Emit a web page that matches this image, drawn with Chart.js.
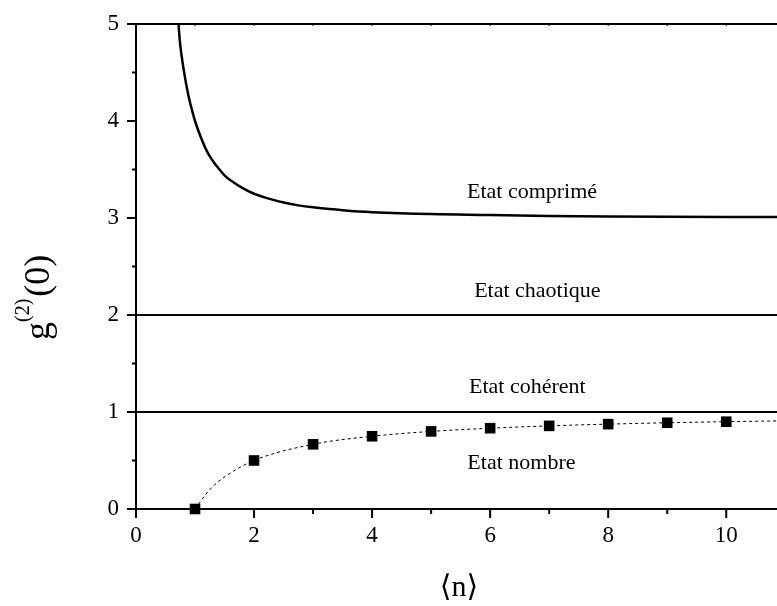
<!DOCTYPE html>
<html>
<head>
<meta charset="utf-8">
<script src="https://cdn.jsdelivr.net/npm/chart.js@4.4.1/dist/chart.umd.min.js"></script>
<style>
  html, body { margin: 0; padding: 0; background: #fff; }
  #wrap { width: 777px; height: 606px; position: relative; }
</style>
</head>
<body>
<div id="wrap"><canvas id="chart"></canvas></div>
<script>
// values
const xMax = 10.86;

// squeezed state curve (read points)
const squeezedX = [0.72, 0.75, 0.8, 0.85, 0.9, 0.95, 1.0, 1.1, 1.2, 1.3, 1.4, 1.5, 1.6, 1.8, 2, 2.25, 2.5, 2.75, 3, 3.5, 4, 5, 6, 7, 8, 10, 10.86];
const squeezedY = [5.0, 4.78, 4.56, 4.38, 4.23, 4.11, 4.0, 3.83, 3.69, 3.59, 3.51, 3.44, 3.39, 3.31, 3.25, 3.2, 3.16, 3.13, 3.11, 3.08, 3.06, 3.04, 3.03, 3.02, 3.015, 3.01, 3.01];

// chaotic and coherent levels
const chaoticLevel = 2;
const coherentLevel = 1;

// number state markers
const numberX = [1, 2, 3, 4, 5, 6, 7, 8, 9, 10];
const numberY = [0, 0.5, 0.667, 0.75, 0.8, 0.833, 0.857, 0.875, 0.889, 0.9];

// dashed guide through the number state points
const guideX = [1, 1.25, 1.5, 2, 3, 4, 5, 6, 7, 8, 9, 10, 10.86];
const guideY = [0, 0.2, 0.33, 0.5, 0.667, 0.75, 0.8, 0.833, 0.857, 0.875, 0.889, 0.9, 0.908];

const annotations = [
  { text: 'Etat comprimé', x: 6.71, y: 3.27 },
  { text: 'Etat chaotique', x: 6.8, y: 2.25 },
  { text: 'Etat cohérent', x: 6.63, y: 1.26 },
  { text: 'Etat nombre', x: 6.53, y: 0.47 }
];

const serif = '"Liberation Serif", "DejaVu Serif", serif';

function pts(xs, ys) {
  return xs.map((x, i) => ({ x: x, y: ys[i] }));
}

const frame = {
  id: 'frame',
  afterDatasetsDraw(chart) {
    const { ctx, chartArea: a, scales: { x, y } } = chart;
    ctx.save();
    ctx.strokeStyle = '#000';
    ctx.lineWidth = 2;
    // top border
    ctx.beginPath();
    ctx.moveTo(a.left, a.top);
    ctx.lineTo(a.right, a.top);
    ctx.stroke();
    // y tick marks (outward)
    y.ticks.forEach(t => {
      const py = y.getPixelForValue(t.value);
      const len = Number.isInteger(t.value) ? 9 : 4;
      ctx.beginPath();
      ctx.moveTo(a.left - len, py);
      ctx.lineTo(a.left, py);
      ctx.stroke();
    });
    // x tick marks (outward) and small inward top ticks
    x.ticks.forEach(t => {
      const px = x.getPixelForValue(t.value);
      const len = t.value % 2 === 0 ? 9 : 5;
      ctx.lineWidth = 2;
      ctx.beginPath();
      ctx.moveTo(px, a.bottom);
      ctx.lineTo(px, a.bottom + len);
      ctx.stroke();
      ctx.lineWidth = 1;
      ctx.beginPath();
      ctx.moveTo(px, a.top);
      ctx.lineTo(px, a.top + 2);
      ctx.stroke();
    });
    // state labels
    ctx.fillStyle = '#000';
    ctx.font = '22px ' + serif;
    ctx.textAlign = 'center';
    ctx.textBaseline = 'middle';
    annotations.forEach(n => {
      ctx.fillText(n.text, x.getPixelForValue(n.x), y.getPixelForValue(n.y));
    });
    // x title
    ctx.font = '30px ' + serif;
    ctx.fillText('\u27E8n\u27E9', 459, 588);
    // y title g^(2)(0)
    ctx.translate(49, 340);
    ctx.rotate(-Math.PI / 2);
    ctx.textAlign = 'left';
    ctx.textBaseline = 'alphabetic';
    let cx = 0;
    ctx.font = '36px ' + serif;
    ctx.fillText('g', cx, 0);
    cx += ctx.measureText('g').width;
    ctx.font = '20px ' + serif;
    ctx.fillText('(2)', cx, -20);
    cx += ctx.measureText('(2)').width;
    ctx.font = '36px ' + serif;
    ctx.fillText('(0)', cx + 2, 0);
    ctx.restore();
  }
};

new Chart(document.getElementById('chart'), {
  type: 'scatter',
  data: {
    datasets: [
      {
        data: pts(squeezedX, squeezedY),
        showLine: true,
        borderColor: '#000',
        borderWidth: 2.5,
        pointRadius: 0,
        tension: 0.4
      },
      {
        data: pts([0, xMax], [chaoticLevel, chaoticLevel]),
        showLine: true,
        borderColor: '#000',
        borderWidth: 2,
        pointRadius: 0
      },
      {
        data: pts([0, xMax], [coherentLevel, coherentLevel]),
        showLine: true,
        borderColor: '#000',
        borderWidth: 2,
        pointRadius: 0
      },
      {
        data: pts(guideX, guideY),
        showLine: true,
        borderColor: '#000',
        borderWidth: 1,
        borderDash: [3, 3],
        pointRadius: 0,
        cubicInterpolationMode: 'monotone'
      },
      {
        data: pts(numberX, numberY),
        showLine: false,
        clip: false,
        pointStyle: 'rect',
        pointRadius: 7.5,
        backgroundColor: '#000',
        borderColor: '#000',
        borderWidth: 0
      }
    ]
  },
  options: {
    responsive: true,
    maintainAspectRatio: false,
    animation: false,
    layout: { autoPadding: false, padding: { top: 24, right: 0, bottom: 0, left: 0 } },
    plugins: { legend: { display: false }, tooltip: { enabled: false } },
    scales: {
      x: {
        type: 'linear',
        min: 0,
        max: xMax,
        grid: { display: false, drawTicks: false },
        border: { display: true, color: '#000', width: 2 },
        ticks: {
          stepSize: 1,
          includeBounds: false,
          padding: 13,
          color: '#000',
          font: { family: serif, size: 23 },
          maxRotation: 0,
          autoSkip: false,
          callback: v => (v % 2 === 0 ? String(v) : '')
        },
        afterFit(scale) {
          scale.height = 97;
          scale.paddingLeft = 0;
          scale.paddingRight = 0;
        }
      },
      y: {
        type: 'linear',
        min: 0,
        max: 5,
        grid: { display: false, drawTicks: false },
        border: { display: true, color: '#000', width: 2 },
        ticks: {
          stepSize: 0.5,
          padding: 17,
          color: '#000',
          font: { family: serif, size: 23 },
          autoSkip: false,
          callback: v => (Number.isInteger(v) ? String(v) : '')
        },
        afterFit(scale) {
          scale.width = 136;
          scale.paddingTop = 0;
          scale.paddingBottom = 0;
        }
      }
    }
  },
  plugins: [frame]
});
</script>
</body>
</html>
